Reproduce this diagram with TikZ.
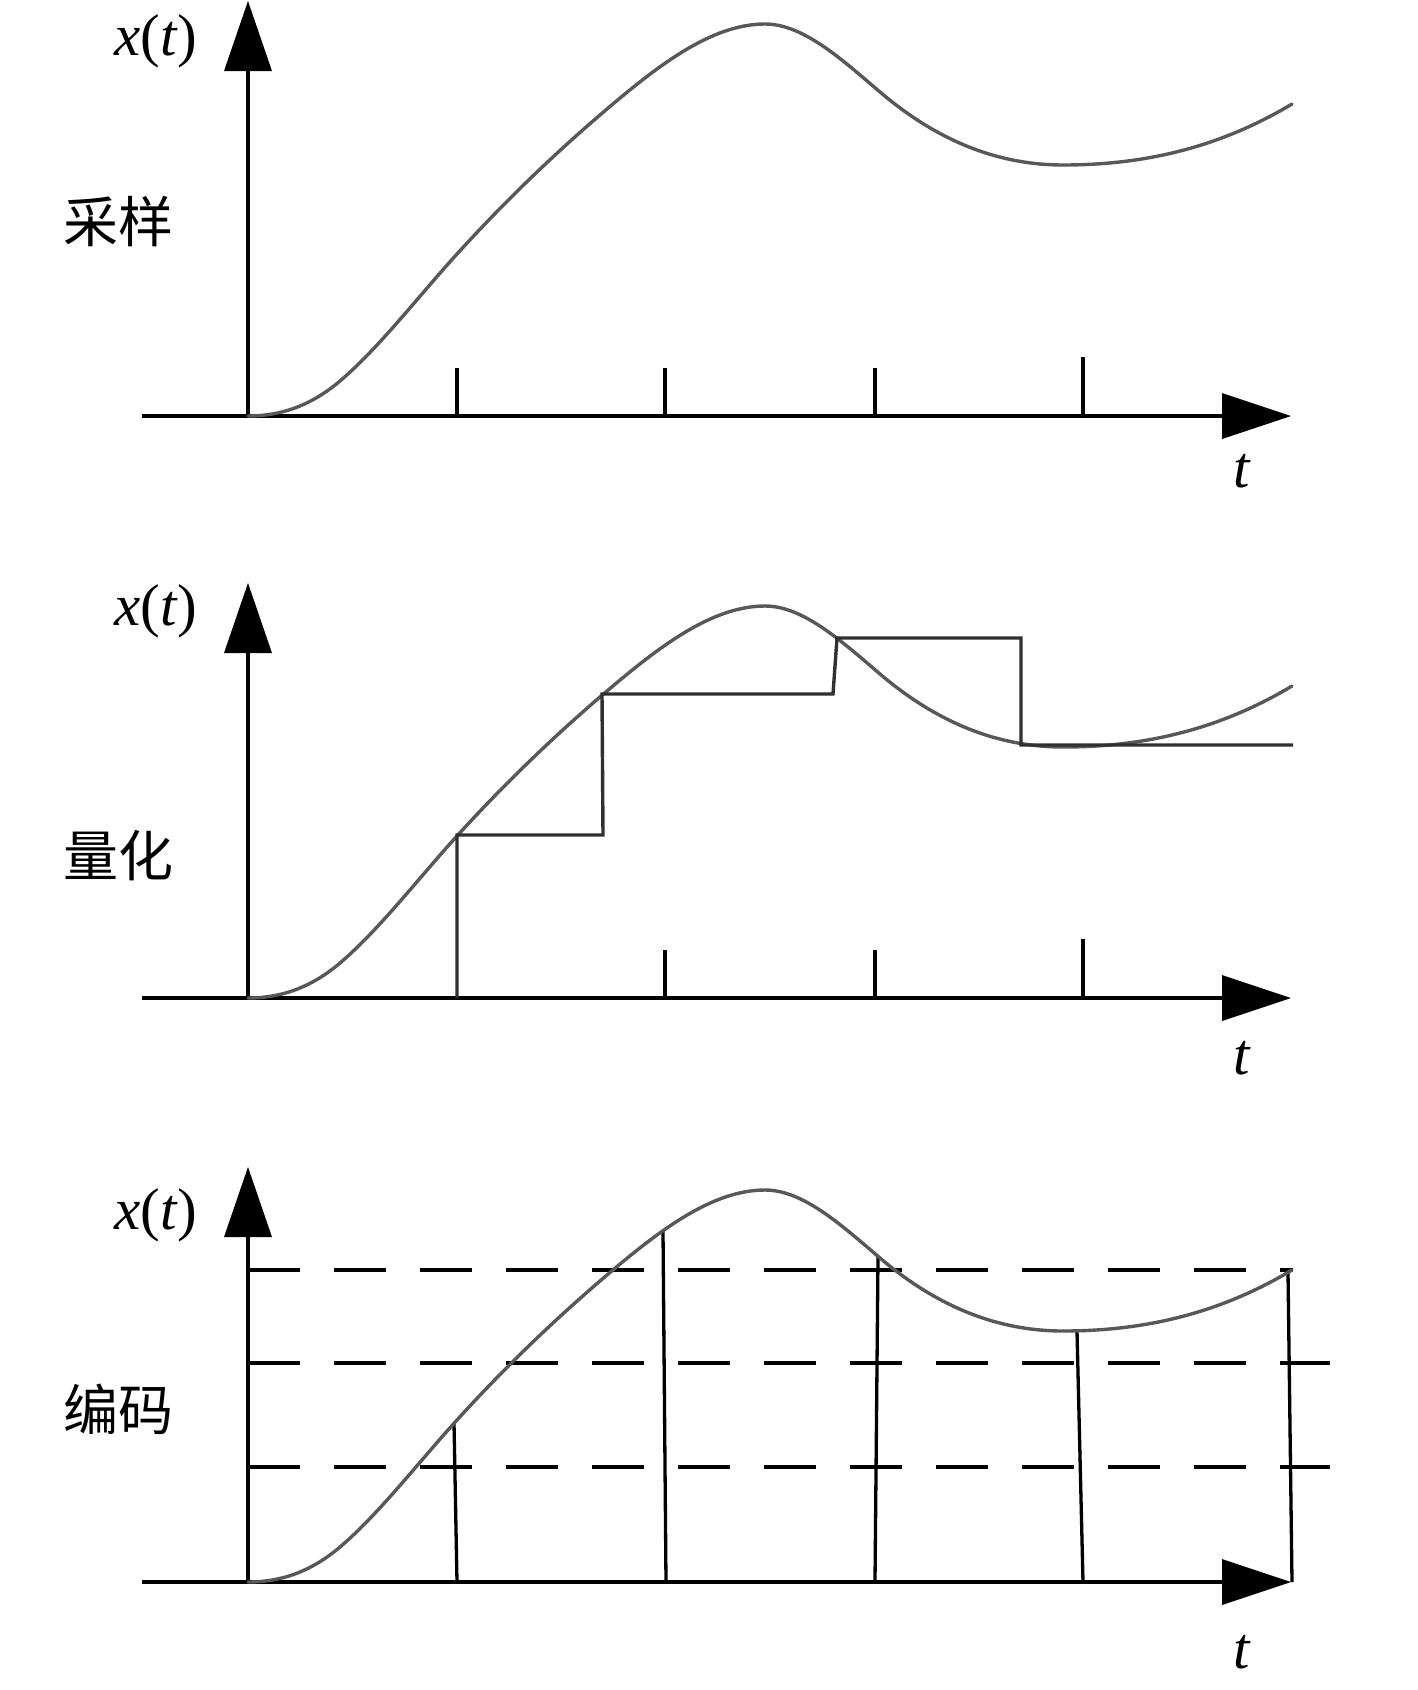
\documentclass[tikz,border=0pt]{standalone}
\usepackage{fontspec}
\setmainfont{Liberation Serif}
\newfontfamily\cjk{Noto Sans CJK SC}
\definecolor{sigcol}{RGB}{88,88,88}
\definecolor{stepcol}{RGB}{48,48,48}
\begin{document}
\begin{tikzpicture}[x=1pt,y=-1pt,
  axisline/.style={line width=3.6pt,black},
  tickline/.style={line width=3.3pt,black},
  sigline/.style={line width=3.4pt,sigcol,line join=round,line cap=round},
  stepline/.style={line width=3.4pt,stepcol,line join=miter},
  sampleline/.style={line width=3.3pt,black},
  levelline/.style={line width=3.5pt,black,dash pattern=on 52pt off 34pt},
  mathlab/.style={inner sep=0pt,font=\fontsize{59}{61}\selectfont},
  cjklab/.style={inner sep=0pt,font=\cjk\fontsize{55}{58}\selectfont}]
\useasboundingbox (0,0) rectangle (1417,1690);

% ---------- panel 1 : sampling ----------
\begin{scope}
\draw[axisline] (142,416) -- (1225,416);
\draw[axisline] (248,416) -- (248,68);
\fill (1291,416) -- (1222,393) -- (1222,439) -- cycle;
\fill (248,1) -- (224,71) -- (272,71) -- cycle;
\draw[tickline] (457,416) -- (457,368);
\draw[tickline] (665,416) -- (665,368);
\draw[tickline] (875,416) -- (875,368);
\draw[tickline] (1083,416) -- (1083,357);
\draw[sigline] (248,416) .. controls (278.7,416) and (309.3,407.1) .. (340,381) .. controls (379,347.8) and (418,296.9) .. (457,254) .. controls (507,199) and (557,151.5) .. (607,109) .. controls (659.7,64.2) and (712.3,24) .. (765,24) .. controls (803.3,24) and (841.7,59.4) .. (880,92) .. controls (941,143.9) and (1002,165) .. (1063,165) .. controls (1139.3,165) and (1215.7,149.8) .. (1292,104);
\node[mathlab,anchor=base west] (xt1) at (114,55) {\textit{x}(\textit{t})};
\node[mathlab,anchor=base] (t1) at (1242,487) {\textit{t}};
\node[cjklab] (lab1) at (118,221) {采样};
\end{scope}

% ---------- panel 2 : quantization ----------
\begin{scope}[shift={(0,582)}]
\draw[axisline] (142,416) -- (1225,416);
\draw[axisline] (248,416) -- (248,68);
\fill (1291,416) -- (1222,393) -- (1222,439) -- cycle;
\fill (248,1) -- (224,71) -- (272,71) -- cycle;
\draw[tickline] (665,416) -- (665,368);
\draw[tickline] (875,416) -- (875,368);
\draw[tickline] (1083,416) -- (1083,357);
\draw[sigline] (248,416) .. controls (278.7,416) and (309.3,407.1) .. (340,381) .. controls (379,347.8) and (418,296.9) .. (457,254) .. controls (507,199) and (557,151.5) .. (607,109) .. controls (659.7,64.2) and (712.3,24) .. (765,24) .. controls (803.3,24) and (841.7,59.4) .. (880,92) .. controls (941,143.9) and (1002,165) .. (1063,165) .. controls (1139.3,165) and (1215.7,149.8) .. (1292,104);
\draw[stepline] (457,416) -- (457,253) -- (603,253) -- (602,112) -- (833,112) -- (837,56) -- (1021,56) -- (1021,163) -- (1293,163);
\node[mathlab,anchor=base west] (xt2) at (114,43) {\textit{x}(\textit{t})};
\node[mathlab,anchor=base] (t2) at (1242,492) {\textit{t}};
\node[cjklab] (lab2) at (118,274) {量化};
\end{scope}

% ---------- panel 3 : coding ----------
\begin{scope}[shift={(0,1166)}]
\draw[levelline] (248,104) -- (1293,104);
\draw[levelline] (248,197) -- (1330,197);
\draw[levelline] (248,301) -- (1330,301);
\draw[axisline] (142,416) -- (1225,416);
\draw[axisline] (248,416) -- (248,68);
\fill (1291,416) -- (1222,393) -- (1222,439) -- cycle;
\fill (248,1) -- (224,71) -- (272,71) -- cycle;
\draw[sampleline] (454,257) -- (457,416);
\draw[sampleline] (663,65) -- (666,416);
\draw[sampleline] (878,91) -- (875,416);
\draw[sampleline] (1077,165) -- (1083,416);
\draw[sampleline] (1288,106) -- (1292,416);
\draw[sigline] (248,416) .. controls (278.7,416) and (309.3,407.1) .. (340,381) .. controls (379,347.8) and (418,296.9) .. (457,254) .. controls (507,199) and (557,151.5) .. (607,109) .. controls (659.7,64.2) and (712.3,24) .. (765,24) .. controls (803.3,24) and (841.7,59.4) .. (880,92) .. controls (941,143.9) and (1002,165) .. (1063,165) .. controls (1139.3,165) and (1215.7,149.8) .. (1292,104);
\node[mathlab,anchor=base west] (xt3) at (114,63) {\textit{x}(\textit{t})};
\node[mathlab,anchor=base] (t3) at (1242,502) {\textit{t}};
\node[cjklab] (lab3) at (118,243) {编码};
\end{scope}
\end{tikzpicture}
\end{document}
